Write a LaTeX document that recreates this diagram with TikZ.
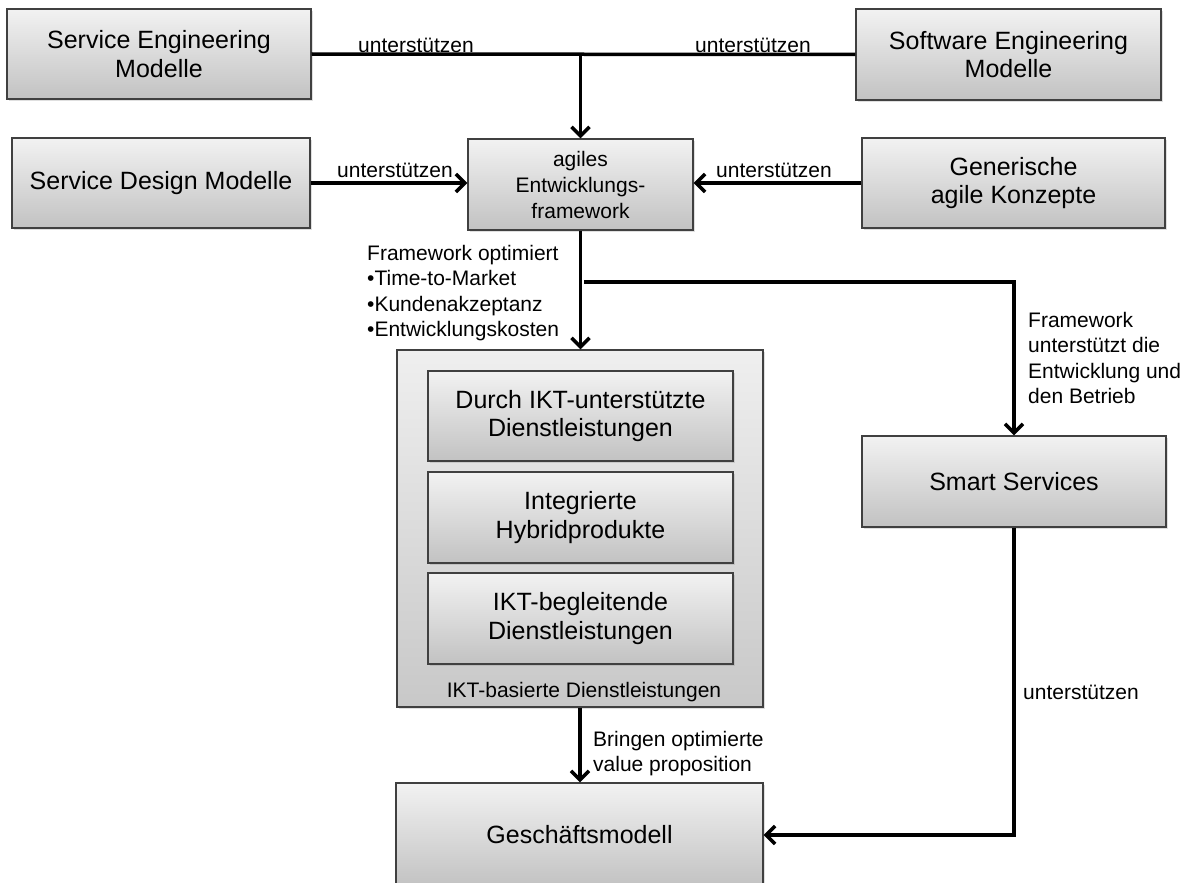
\documentclass[tikz,border=0pt]{standalone}
\usepackage{fontspec}
\setmainfont{Liberation Sans}
\usetikzlibrary{arrows.meta,shadows}

\definecolor{boxline}{HTML}{404040}
\definecolor{boxtop}{HTML}{F2F2F2}
\definecolor{boxbot}{HTML}{C2C2C2}
\definecolor{outertop}{HTML}{EFEFEF}
\definecolor{outerbot}{HTML}{C8C8C8}

\tikzset{
  box/.style={draw=boxline, line width=1.2pt, top color=boxtop, bottom color=boxbot,
    inner sep=0pt, align=center, font=\fontsize{25}{28.75}\selectfont,
    drop shadow={shadow xshift=2pt, shadow yshift=-2pt, opacity=0.25}},
  outerbox/.style={box, top color=outertop, bottom color=outerbot},
  lbl/.style={inner sep=0pt, align=left, font=\fontsize{21}{25.5}\selectfont},
  link/.style={line width=3.5pt},
  conn/.style={link, -{Straight Barb[length=9pt,width=18pt]}},
}

\begin{document}
\begin{tikzpicture}[x=1pt, y=-1pt]
  \clip (0,0) rectangle (1192,883);

  % model boxes, top rows
  \node[box, minimum width=304pt, minimum height=90pt] (se) at (159,54) {Service Engineering\\Modelle};
  \node[box, minimum width=305pt, minimum height=91pt] (sw) at (1008.5,54.5) {Software Engineering\\Modelle};
  \node[box, minimum width=298pt, minimum height=90pt] (sd) at (161,183) {Service Design Modelle};
  \node[box, minimum width=303pt, minimum height=90pt] (ga) at (1013.5,183) {Generische\\agile Konzepte};
  \node[box, minimum width=225pt, minimum height=91pt, font=\fontsize{21}{26}\selectfont] (af) at (580.5,184.5) {agiles\\Entwicklungs-\\framework};

  % ICT-based services container with its three kinds
  \node[outerbox, minimum width=366pt, minimum height=357pt] (ikt) at (580,528.5) {};
  \node[box, minimum width=305pt, minimum height=90pt] (d1) at (580.5,416) {Durch IKT-unterstützte\\Dienstleistungen};
  \node[box, minimum width=305pt, minimum height=91pt] (d2) at (580.5,517.5) {Integrierte\\Hybridprodukte};
  \node[box, minimum width=305pt, minimum height=91pt] (d3) at (580.5,618.5) {IKT-begleitende\\Dienstleistungen};
  \node[lbl] (iktl) at (584,692) {IKT-basierte Dienstleistungen};

  \node[box, minimum width=304pt, minimum height=91pt] (ss) at (1014,481.5) {Smart Services};
  \node[box, minimum width=367pt, minimum height=104pt] (gm) at (579.5,835) {Geschäftsmodell};

  % connectors
  \coordinate (j1) at (af.north |- se.east);
  \draw[link] (se.east) -- (sw.west);
  \draw[conn] (j1) -- (af.north);
  \draw[conn] (sd.east) -- (sd.east -| af.west);
  \draw[conn] (ga.west) -- (ga.west -| af.east);
  \draw[conn] (af.south) -- (af.south |- ikt.north);
  \coordinate (b0) at (584,282);
  \draw[conn] (b0) -- (b0 -| ss.north) -- (ss.north);
  \draw[conn] (ikt.south) -- (ikt.south |- gm.north);
  \draw[conn] (ss.south) |- (gm.east);

  % connector labels
  \node[lbl] (l1) at (416,45) {unterstützen};
  \node[lbl] (l2) at (753,45) {unterstützen};
  \node[lbl] (l3) at (395,170) {unterstützen};
  \node[lbl] (l4) at (774,170) {unterstützen};
  \node[lbl, anchor=north west] (l5) at (367,245) {Framework optimiert\\•Time-to-Market\\•Kundenakzeptanz\\•Entwicklungskosten};
  \node[lbl, anchor=north west] (l6) at (1028,312) {Framework\\unterstützt die\\Entwicklung und\\den Betrieb};
  \node[lbl, anchor=north west] (l7) at (593,731) {Bringen optimierte\\value proposition};
  \node[lbl, anchor=west] (l8) at (1023,692) {unterstützen};
\end{tikzpicture}
\end{document}
